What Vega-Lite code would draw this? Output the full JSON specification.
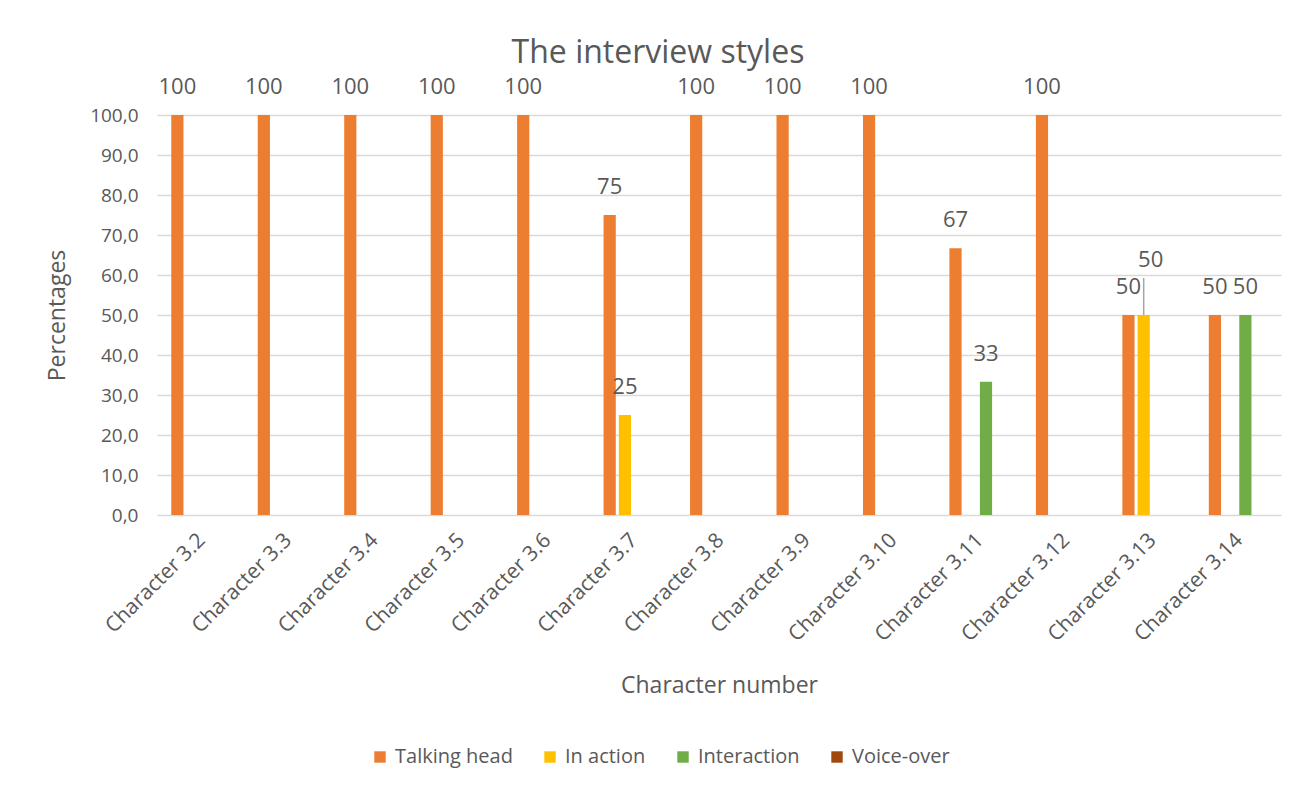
{
  "$schema": "https://vega.github.io/schema/vega-lite/v6.json",
  "width": 1124,
  "height": 400,
  "autosize": {"type": "none"},
  "padding": {"left": 157, "top": 115, "right": 31, "bottom": 280},
  "background": "white",
  "title": {
    "text": "The interview styles",
    "anchor": "middle",
    "frame": "group",
    "dx": -61,
    "offset": 6,
    "font": "Open Sans",
    "fontSize": 32,
    "fontWeight": "normal",
    "color": "#595959"
  },
  "data": {
    "values": [
      {"character": "Character 3.2", "style": "Talking head", "pct": 100},
      {"character": "Character 3.3", "style": "Talking head", "pct": 100},
      {"character": "Character 3.4", "style": "Talking head", "pct": 100},
      {"character": "Character 3.5", "style": "Talking head", "pct": 100},
      {"character": "Character 3.6", "style": "Talking head", "pct": 100},
      {"character": "Character 3.7", "style": "Talking head", "pct": 75},
      {"character": "Character 3.7", "style": "In action", "pct": 25},
      {"character": "Character 3.8", "style": "Talking head", "pct": 100},
      {"character": "Character 3.9", "style": "Talking head", "pct": 100},
      {"character": "Character 3.10", "style": "Talking head", "pct": 100},
      {"character": "Character 3.11", "style": "Talking head", "pct": 66.67},
      {"character": "Character 3.11", "style": "Interaction", "pct": 33.33},
      {"character": "Character 3.12", "style": "Talking head", "pct": 100},
      {"character": "Character 3.13", "style": "Talking head", "pct": 50},
      {"character": "Character 3.13", "style": "In action", "pct": 50},
      {"character": "Character 3.14", "style": "Talking head", "pct": 50},
      {"character": "Character 3.14", "style": "Interaction", "pct": 50}
    ]
  },
  "encoding": {
    "x": {
      "field": "character",
      "type": "nominal",
      "sort": null,
      "scale": {"paddingInner": 0.295, "paddingOuter": 0.1475},
      "axis": {
        "title": "Character number",
        "labelAngle": -45,
        "labelFont": "Open Sans",
        "labelFontSize": 21,
        "labelColor": "#595959",
        "labelPadding": 14,
        "labelOffset": -6,
        "ticks": false,
        "domain": false,
        "titleFont": "Open Sans",
        "titleFontSize": 23,
        "titleFontWeight": "normal",
        "titleColor": "#595959",
        "titlePadding": 30
      }
    },
    "xOffset": {
      "field": "style",
      "type": "nominal",
      "scale": {"domain": ["Talking head", "In action", "Interaction", "Voice-over"], "paddingInner": 0.2, "paddingOuter": 0.1}
    },
    "y": {
      "field": "pct",
      "type": "quantitative",
      "scale": {"domain": [0, 100], "nice": false},
      "axis": {
        "title": "Percentages",
        "values": [0, 10, 20, 30, 40, 50, 60, 70, 80, 90, 100],
        "labelExpr": "replace(format(datum.value, '.1f'), '.', ',')",
        "labelFont": "Open Sans",
        "labelFontSize": 19,
        "labelColor": "#595959",
        "labelPadding": 19,
        "ticks": false,
        "domain": false,
        "grid": true,
        "gridColor": "#D9D9D9",
        "gridWidth": 1.5,
        "titleFont": "Open Sans",
        "titleFontSize": 23,
        "titleFontWeight": "normal",
        "titleColor": "#595959",
        "titlePadding": 20
      }
    }
  },
  "layer": [
    {
      "mark": {"type": "bar"},
      "encoding": {
        "color": {
          "field": "style",
          "type": "nominal",
          "scale": {
            "domain": ["Talking head", "In action", "Interaction", "Voice-over"],
            "range": ["#ED7D31", "#FFC000", "#70AD47", "#9E480E"]
          },
          "legend": {
            "title": null,
            "orient": "none",
            "legendX": 213,
            "legendY": 632,
            "direction": "horizontal",
            "columns": 4,
            "columnPadding": 27,
            "symbolType": "square",
            "symbolSize": 130,
            "symbolStrokeWidth": 0,
            "symbolOpacity": 1,
            "labelFont": "Open Sans",
            "labelFontSize": 20,
            "labelColor": "#595959",
            "labelOffset": 5
          }
        }
      }
    },
    {
      "transform": [{"filter": "!(datum.character == 'Character 3.13' && datum.style == 'In action')"}],
      "mark": {
        "type": "text",
        "baseline": "middle",
        "dy": -28,
        "font": "Open Sans",
        "fontSize": 22,
        "color": "#595959"
      },
      "encoding": {
        "text": {"field": "pct", "type": "quantitative", "format": ".0f"}
      }
    },
    {
      "transform": [{"filter": "datum.character == 'Character 3.13' && datum.style == 'In action'"}],
      "mark": {
        "type": "text",
        "baseline": "middle",
        "dy": -55,
        "dx": 7,
        "font": "Open Sans",
        "fontSize": 22,
        "color": "#595959"
      },
      "encoding": {
        "text": {"field": "pct", "type": "quantitative", "format": ".0f"}
      }
    },
    {
      "transform": [{"filter": "datum.character == 'Character 3.13' && datum.style == 'In action'"}],
      "mark": {
        "type": "rule",
        "color": "#A6A6A6",
        "strokeWidth": 1.5,
        "xOffset": 2,
        "y2Offset": -37
      },
      "encoding": {
        "y2": {"field": "pct"}
      }
    }
  ],
  "config": {
    "view": {"stroke": null}
  }
}
